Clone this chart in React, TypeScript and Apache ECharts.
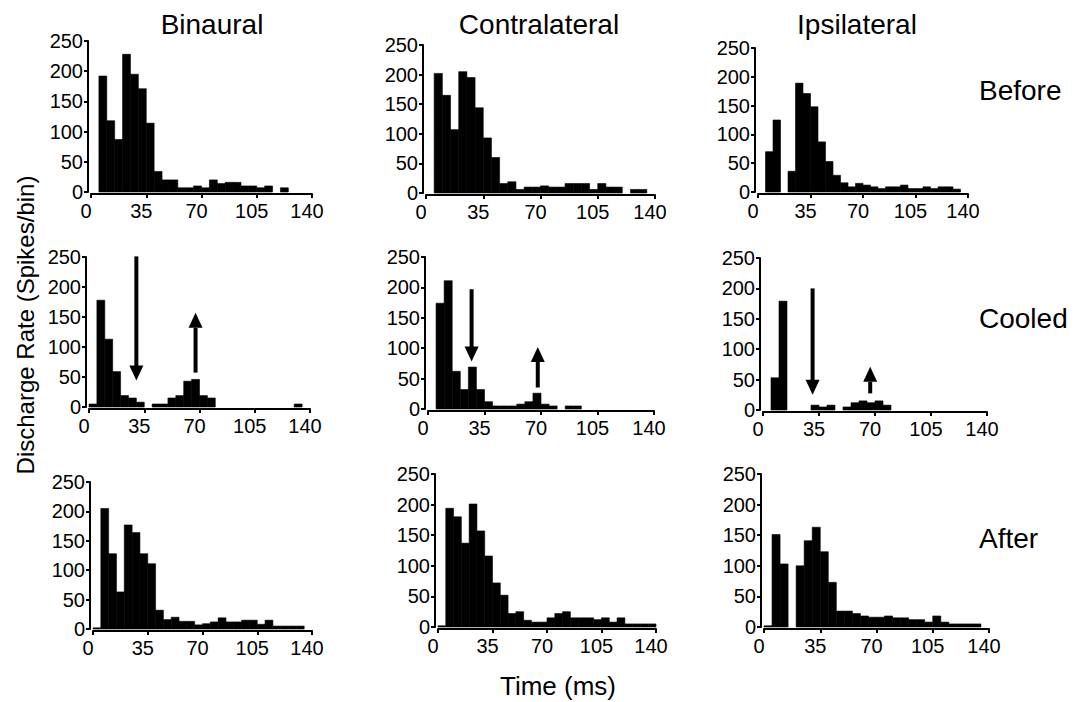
import React, { useEffect, useRef } from "react";
import * as echarts from "echarts";

// ---- Data ----
const COLUMN_TITLES = ["Binaural", "Contralateral", "Ipsilateral"];
const ROW_TITLES = ["Before", "Cooled", "After"];
const X_TICKS = [0, 35, 70, 105, 140];
const Y_TICKS = [0, 50, 100, 150, 200, 250];
const BIN_WIDTH = 5;
const BIN_STARTS = [
  0, 5, 10, 15, 20, 25, 30, 35, 40, 45, 50, 55, 60, 65, 70, 75, 80, 85, 90, 95,
  100, 105, 110, 115, 120, 125, 130, 135,
];

const binauralBefore = [0, 192, 118, 87, 228, 195, 171, 114, 34, 20, 20, 7, 7, 10, 7, 20, 14, 16, 16, 10, 10, 7, 10, 0, 7, 0, 0, 0];
const contraBefore = [0, 202, 165, 107, 205, 195, 144, 93, 60, 16, 19, 6, 10, 10, 12, 10, 10, 16, 16, 16, 6, 16, 10, 10, 0, 6, 6, 0];
const ipsiBefore = [0, 70, 125, 0, 36, 189, 171, 148, 87, 53, 29, 16, 9, 15, 12, 9, 6, 9, 9, 12, 6, 6, 9, 6, 9, 9, 5, 0];

const binauralCooled = [5, 178, 113, 59, 19, 15, 8, 0, 5, 5, 15, 19, 43, 46, 19, 15, 0, 0, 0, 0, 0, 0, 0, 0, 0, 0, 5, 0];
const contraCooled = [0, 174, 211, 62, 32, 69, 32, 12, 5, 5, 5, 8, 12, 26, 8, 5, 0, 5, 5, 0, 0, 0, 0, 0, 0, 0, 0, 0];
const ipsiCooled = [0, 53, 179, 0, 0, 0, 8, 5, 8, 0, 5, 12, 15, 12, 15, 8, 0, 0, 0, 0, 0, 0, 0, 0, 0, 0, 0, 0];

const binauralAfter = [2, 205, 128, 63, 177, 164, 128, 111, 32, 16, 20, 13, 13, 7, 9, 12, 19, 12, 12, 15, 15, 8, 15, 5, 5, 5, 5, 0];
const contraAfter = [2, 194, 180, 137, 201, 157, 116, 72, 52, 22, 25, 11, 8, 8, 15, 22, 25, 15, 15, 15, 12, 15, 8, 15, 5, 5, 5, 5];
const ipsiAfter = [2, 151, 103, 0, 100, 141, 163, 123, 73, 26, 26, 22, 18, 16, 16, 18, 15, 15, 12, 12, 8, 18, 8, 5, 5, 5, 5, 0];

// arrows: [x (ms), from value, to (tip) value]
const binauralCooledArrows = [[30, 251, 44], [67.5, 59, 157]];
const contraCooledArrows = [[27, 197, 78], [68, 37, 102]];
const ipsiCooledArrows = [[31, 200, 25], [67, 29, 71]];

const PANEL_DATA = [
  [binauralBefore, contraBefore, ipsiBefore],
  [binauralCooled, contraCooled, ipsiCooled],
  [binauralAfter, contraAfter, ipsiAfter],
];
const PANEL_ARROWS = [
  [null, null, null],
  [binauralCooledArrows, contraCooledArrows, ipsiCooledArrows],
  [null, null, null],
];

// ---- Layout (pixel boxes: left, top, right, bottom) ----
const PANEL_BOXES = [
  [[91, 41, 312, 192], [426, 45, 655, 193], [758, 48, 968, 192]],
  [[89, 257, 310, 407], [428, 257, 654, 409], [763, 258, 987, 410]],
  [[93, 482, 312, 629], [438, 474, 656, 627], [764, 474, 989, 627]],
];
const TITLE_X = [212, 539, 857];
const ROW_Y = [90, 318, 538];

const FONT = "'Liberation Sans', Arial, Helvetica, sans-serif";

function buildOption() {
  const grid: any[] = [];
  const xAxis: any[] = [];
  const yAxis: any[] = [];
  const series: any[] = [];
  let idx = 0;
  for (let r = 0; r < 3; r++) {
    for (let c = 0; c < 3; c++) {
      const [L, T, R, B] = PANEL_BOXES[r][c];
      grid.push({
        left: L,
        top: T,
        width: R - L,
        height: B - T,
        containLabel: false,
        outerBoundsMode: "none",
      });
      xAxis.push({
        type: "value",
        gridIndex: idx,
        min: X_TICKS[0],
        max: X_TICKS[X_TICKS.length - 1],
        interval: X_TICKS[1] - X_TICKS[0],
        offset: 2,
        splitLine: { show: false },
        axisLine: { show: true, onZero: false, lineStyle: { color: "#000", width: 2 } },
        axisTick: { show: true, length: 4, lineStyle: { color: "#000", width: 2 } },
        axisLabel: {
          show: true,
          color: "#000",
          fontSize: 20,
          fontFamily: FONT,
          margin: 7,
          padding: [0, 10, 0, 0],
          showMinLabel: true,
          showMaxLabel: true,
          hideOverlap: false,
        },
      });
      yAxis.push({
        type: "value",
        gridIndex: idx,
        min: Y_TICKS[0],
        max: Y_TICKS[Y_TICKS.length - 1],
        interval: Y_TICKS[1] - Y_TICKS[0],
        offset: 3,
        splitLine: { show: false },
        axisLine: { show: true, onZero: false, lineStyle: { color: "#000", width: 2 } },
        axisTick: { show: true, length: 4, lineStyle: { color: "#000", width: 2 } },
        axisLabel: {
          show: true,
          color: "#000",
          fontSize: 20,
          fontFamily: FONT,
          margin: 5,
          showMinLabel: true,
          showMaxLabel: true,
          hideOverlap: false,
        },
      });
      const values = PANEL_DATA[r][c];
      series.push({
        type: "custom",
        xAxisIndex: idx,
        yAxisIndex: idx,
        encode: { x: 0, y: 1 },
        data: BIN_STARTS.map((s, i) => [s, values[i]]),
        renderItem: (params: any, api: any) => {
          const start = api.value(0);
          const val = api.value(1);
          if (!val) return null;
          const p = api.coord([start, val]);
          const q = api.coord([start + BIN_WIDTH, 0]);
          return {
            type: "rect",
            shape: { x: p[0], y: p[1], width: q[0] - p[0], height: q[1] - p[1] },
            style: { fill: "#000", stroke: "#000", lineWidth: 0.6 },
          };
        },
      });
      const arrows = PANEL_ARROWS[r][c];
      if (arrows) {
        series.push({
          type: "custom",
          xAxisIndex: idx,
          yAxisIndex: idx,
          encode: { x: 0, y: [1, 2] },
          data: arrows,
          z: 5,
          renderItem: (params: any, api: any) => {
            const x = api.value(0);
            const a = api.coord([x, api.value(1)]);
            const b = api.coord([x, api.value(2)]);
            const dir = b[1] > a[1] ? 1 : -1;
            const head = 15;
            const hw = 7;
            const shaftEnd = b[1] - dir * head;
            return {
              type: "group",
              children: [
                {
                  type: "rect",
                  shape: {
                    x: b[0] - 2,
                    y: Math.min(a[1], shaftEnd),
                    width: 4,
                    height: Math.abs(shaftEnd - a[1]) + 1,
                  },
                  style: { fill: "#000" },
                },
                {
                  type: "polygon",
                  shape: {
                    points: [
                      [b[0], b[1]],
                      [b[0] - hw, shaftEnd],
                      [b[0] + hw, shaftEnd],
                    ],
                  },
                  style: { fill: "#000" },
                },
              ],
            };
          },
        });
      }
      idx++;
    }
  }

  const textStyle = (text: string, size: number, align: string) => ({
    text,
    fill: "#000",
    fontSize: size,
    fontFamily: FONT,
    align,
    verticalAlign: "middle",
  });

  const graphic: any[] = [];
  COLUMN_TITLES.forEach((t, i) => {
    graphic.push({ type: "text", x: TITLE_X[i], y: 24, style: textStyle(t, 28, "center") });
  });
  ROW_TITLES.forEach((t, i) => {
    graphic.push({ type: "text", x: 979, y: ROW_Y[i], style: textStyle(t, 28, "left") });
  });
  graphic.push({ type: "text", x: 558, y: 686, style: textStyle("Time (ms)", 26, "center") });
  graphic.push({
    type: "text",
    x: 25,
    y: 325,
    rotation: Math.PI / 2,
    style: textStyle("Discharge Rate (Spikes/bin)", 24, "center"),
  });

  return {
    animation: false,
    backgroundColor: "#fff",
    textStyle: { fontFamily: FONT },
    grid,
    xAxis,
    yAxis,
    series,
    graphic,
  };
}

export default function App() {
  const ref = useRef<HTMLDivElement>(null);
  useEffect(() => {
    document.body.style.margin = "0";
    if (!ref.current) return;
    const chart = echarts.init(ref.current, null, { renderer: "svg" });
    chart.setOption(buildOption() as any);
    return () => chart.dispose();
  }, []);
  return <div ref={ref} style={{ width: 1075, height: 702 }} />;
}
